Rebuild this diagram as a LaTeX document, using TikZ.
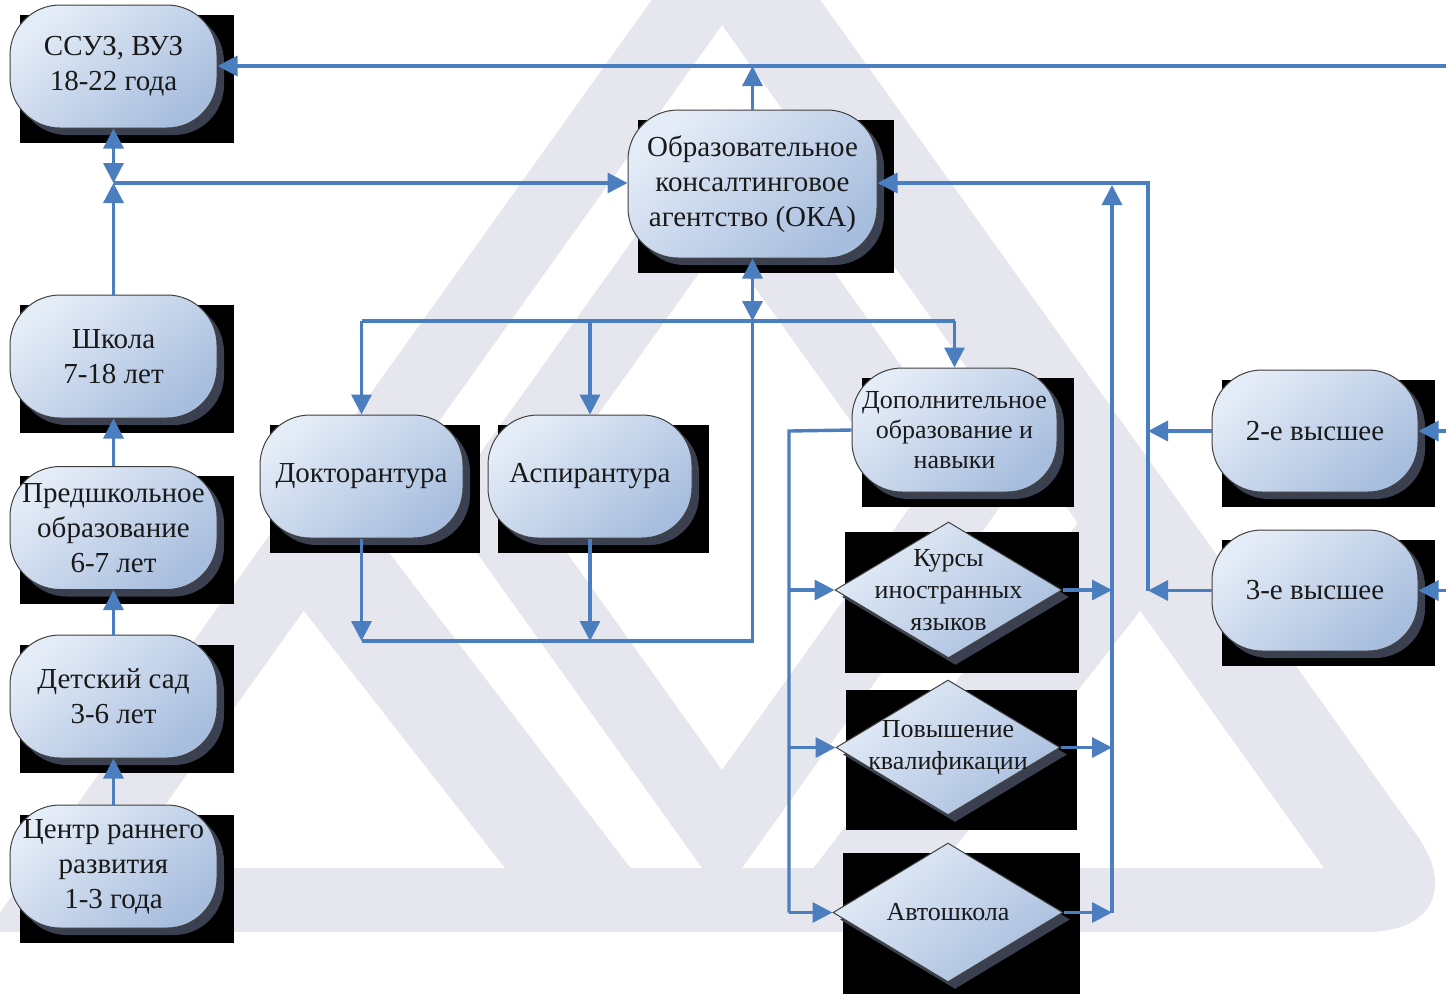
\documentclass[tikz,border=0pt]{standalone}
\usepackage{fontspec}
\setmainfont{Liberation Serif}
\usetikzlibrary{arrows.meta,shapes.geometric,shadows,calc}
\pgfdeclarelayer{wmlayer}
\pgfdeclarelayer{blklayer}
\pgfsetlayers{wmlayer,blklayer,main}
\definecolor{wm}{RGB}{230,231,238}
\definecolor{ln}{RGB}{74,126,190}
\definecolor{ntop}{RGB}{228,236,247}
\definecolor{nbot}{RGB}{168,190,222}
\definecolor{shd}{RGB}{58,64,80}
\definecolor{txt}{RGB}{25,25,25}
\tikzset{
  common/.style={draw=black!75, line width=0.5pt,
    top color=ntop, bottom color=nbot, shading angle=40,
    general shadow={fill=shd, shadow xshift=3.5pt, shadow yshift=-3.5pt}},
  rbox/.style={common, rounded corners=25pt, minimum width=103.5pt,
    minimum height=61.5pt, inner sep=0pt, align=center, text=txt,
    font=\fontsize{14.5}{17.5}\selectfont},
  sbox/.style={rbox, font=\fontsize{13}{15}\selectfont},
  dbox/.style={common, shape=diamond, inner sep=0pt},
  dtext/.style={align=center, text=txt, inner sep=0pt,
    font=\fontsize{13}{16}\selectfont},
  lnk/.style={draw=ln, line width=1.7pt},
  arr/.style={lnk, -{Triangle[length=10pt,width=10pt]}},
  dbl/.style={lnk, {Triangle[length=10pt,width=10pt]}-{Triangle[length=10pt,width=10pt]}},
}
\newcommand\blkbox[1]{\fill[black] ($(#1.west|-#1.north)+(10,10)$) rectangle ($(#1.east|-#1.south)+(16,14)$);}
\begin{document}
\begin{tikzpicture}[x=0.5pt,y=-0.5pt]
\useasboundingbox (0,0) rectangle (1446,993);
% watermark
\begin{pgfonlayer}{wmlayer}
\fill[white] (0,0) rectangle (1446,993);
\begin{scope}
\clip (0,0) rectangle (1446,993);
\fill[wm, even odd rule] (-14,932) -- (736,-118) [rounded corners=60pt] -- (1486,932) [sharp corners] -- cycle
  (120,868) -- (722,25) -- (1324,868) -- cycle;
\fill[wm, even odd rule] (722,115) -- (443,505.5) -- (722,896) -- (1001,505.5) -- cycle
  (722,241) -- (533,505.5) -- (722,770) -- (911,505.5) -- cycle;
\fill[wm, rounded corners=6pt] (356,509.5) -- (293,597) -- (530,900) -- (655,900) -- cycle;
\fill[wm, rounded corners=6pt] (1088,509.5) -- (1151,597) -- (914,900) -- (789,900) -- cycle;
\end{scope}
\end{pgfonlayer}
% nodes
\node[rbox] (ssuz) at (113.5,66.5) {ССУЗ, ВУЗ\\18-22 года};
\node[rbox, minimum width=124.5pt, minimum height=74pt] (oka) at (752.5,184) {Образовательное\\консалтинговое\\агентство (ОКА)};
\node[rbox] (shkola) at (113.5,356.5) {Школа\\7-18 лет};
\node[rbox] (predsh) at (113.5,528) {Предшкольное\\образование\\6-7 лет};
\node[rbox] (detsad) at (113.5,696.5) {Детский сад\\3-6 лет};
\node[rbox] (centr) at (113.5,866.5) {Центр раннего\\развития\\1-3 года};
\node[rbox, minimum width=101.5pt] (doktor) at (361.5,476.5) {Докторантура};
\node[rbox, minimum width=102pt] (aspir) at (590,476.5) {Аспирантура};
\node[sbox, minimum width=102.5pt, minimum height=62pt] (dop) at (954.5,430) {Дополнительное\\образование и\\навыки};
\node[rbox, minimum width=103pt, minimum height=61pt] (vys2) at (1315,431) {2-е высшее};
\node[rbox, minimum width=103pt, minimum height=60.5pt] (vys3) at (1315,590.5) {3-е высшее};
\node[dbox, minimum width=113.5pt, minimum height=68pt] (kursy) at (948.5,590) {};
\node[dtext] (kursyT) at (kursy.center) {Курсы\\иностранных\\языков};
\node[dbox, minimum width=112pt, minimum height=67.5pt] (povysh) at (948,747.5) {};
\node[dtext] (povyshT) at (povysh.center) {Повышение\\квалификации};
\node[dbox, minimum width=115pt, minimum height=69.5pt] (avto) at (948,912.5) {};
\node[dtext] (avtoT) at (avto.center) {Автошкола};
% black boxes
\begin{pgfonlayer}{blklayer}
\foreach \n in {ssuz,oka,shkola,predsh,detsad,centr,doktor,aspir,dop,vys2,vys3,kursy,povysh,avto}{\blkbox{\n}}
\end{pgfonlayer}
% coordinates
\coordinate (topR) at (1446,66);
\coordinate (jL) at (113.5,183);
\coordinate (jM) at (752.5,321);
\coordinate (jB) at (752.5,641);
\coordinate (dL) at (789,431);
\coordinate (dR) at (1112,185);
\coordinate (rJ) at (1148,183);
\coordinate (rE2) at (1446,431);
\coordinate (rE3) at (1446,590.5);
% connectors
\draw[arr] (topR) -- (topR -| ssuz.east);
\draw[arr] (oka.north) -- (oka.north |- topR);
\draw[dbl] (ssuz.south) -- (jL);
\draw[arr] (shkola.north) -- (jL);
\draw[arr] (jL) -- (jL -| oka.west);
\draw[arr] (predsh.north) -- (shkola.south);
\draw[arr] (detsad.north) -- (predsh.south);
\draw[arr] (centr.north) -- (detsad.south);
\draw[dbl] (oka.south) -- (jM);
\draw[lnk] (doktor.north |- jM) -- (dop.north |- jM);
\draw[arr] (doktor.north |- jM) -- (doktor.north);
\draw[arr] (aspir.north |- jM) -- (aspir.north);
\draw[arr] (dop.north |- jM) -- (dop.north);
\draw[arr] (doktor.south) -- (doktor.south |- jB);
\draw[arr] (aspir.south) -- (aspir.south |- jB);
\draw[lnk] (doktor.south |- jB) -- (jB) -- (jM);
\draw[lnk] (dop.west) -- (dL) -- (dL |- avto.west);
\draw[arr] (dL |- kursy.west) -- (kursy.west);
\draw[arr] (dL |- povysh.west) -- (povysh.west);
\draw[arr] (dL |- avto.west) -- (avto.west);
\draw[arr] (kursy.east) -- (kursy.east -| dR);
\draw[arr] (povysh.east) -- (povysh.east -| dR);
\draw[arr] (avto.east) -- (avto.east -| dR);
\draw[arr] (avto.east -| dR) -- (dR);
\draw[arr] (rJ |- vys3.west) -- (rJ) -- (rJ -| oka.east);
\draw[arr] (vys2.west) -- (vys2.west -| rJ);
\draw[arr] (vys3.west) -- (vys3.west -| rJ);
\draw[arr] (rE2) -- (rE2 -| vys2.east);
\draw[arr] (rE3) -- (rE3 -| vys3.east);
\end{tikzpicture}
\end{document}
